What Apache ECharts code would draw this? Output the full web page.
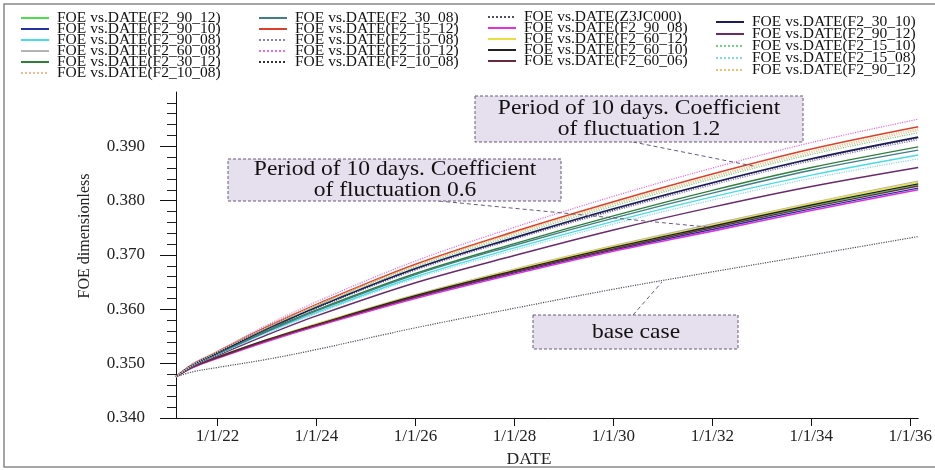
<!DOCTYPE html>
<html><head><meta charset="utf-8">
<script src="https://cdn.jsdelivr.net/npm/echarts@6/dist/echarts.min.js"></script>
<style>html,body{margin:0;padding:0;background:#fff}#c{width:935px;height:470px}</style>
</head><body><div id="c"></div>
<script>
// ---- data ----
// x positions as decimal years (2021-03-01 ... 2036-03-01)
const years = [2021.16,2021.5,2022,2023,2024,2026,2028,2030,2032,2034,2036.16];
const tickYears = [2022,2024,2026,2028,2030,2032,2034,2036];
const yTickValues = [0.34,0.35,0.36,0.37,0.38,0.39];

const v_F2_90_12_green  = [0.3476,0.3494,0.3511,0.3543,0.3571,0.3624,0.3670,0.3713,0.3751,0.3790,0.3829];
const v_F2_90_10_blue   = [0.3476,0.3493,0.3511,0.3542,0.3570,0.3622,0.3667,0.3709,0.3747,0.3785,0.3823];
const v_F2_90_08_cyan   = [0.3476,0.3496,0.3517,0.3558,0.3594,0.3660,0.3713,0.3762,0.3807,0.3847,0.3884];
const v_F2_60_08_gray   = [0.3476,0.3494,0.3512,0.3544,0.3573,0.3627,0.3674,0.3717,0.3757,0.3796,0.3836];
const v_F2_30_12_dgreen = [0.3476,0.3497,0.3518,0.3561,0.3599,0.3666,0.3721,0.3772,0.3819,0.3861,0.3899];
const v_F2_10_08_peach  = [0.3476,0.3499,0.3521,0.3567,0.3607,0.3680,0.3739,0.3793,0.3843,0.3888,0.3929];
const v_F2_30_08_teal   = [0.3476,0.3497,0.3518,0.3559,0.3597,0.3664,0.3718,0.3768,0.3814,0.3856,0.3893];
const v_F2_15_12_red    = [0.3476,0.3499,0.3522,0.3568,0.3609,0.3683,0.3743,0.3798,0.3849,0.3895,0.3936];
const v_F2_15_08_lilac  = [0.3476,0.3498,0.3520,0.3563,0.3602,0.3672,0.3729,0.3781,0.3829,0.3873,0.3912];
const v_F2_10_12_pink   = [0.3476,0.3500,0.3523,0.3571,0.3614,0.3689,0.3751,0.3808,0.3860,0.3907,0.3950];
const v_F2_10_08_dark   = [0.3476,0.3498,0.3520,0.3564,0.3603,0.3674,0.3731,0.3783,0.3832,0.3876,0.3915];
const v_Z3JC000_base    = [0.3476,0.3485,0.3493,0.3508,0.3526,0.3566,0.3602,0.3637,0.3669,0.3700,0.3734];
const v_F2_90_08_magenta= [0.3476,0.3493,0.3510,0.3541,0.3569,0.3620,0.3665,0.3707,0.3744,0.3782,0.3820];
const v_F2_60_12_yellow = [0.3476,0.3494,0.3512,0.3544,0.3573,0.3626,0.3673,0.3716,0.3755,0.3795,0.3834];
const v_F2_60_10_black  = [0.3476,0.3494,0.3512,0.3544,0.3572,0.3625,0.3671,0.3714,0.3753,0.3792,0.3831];
const v_F2_60_06_maroon = [0.3476,0.3494,0.3511,0.3543,0.3571,0.3623,0.3669,0.3711,0.3750,0.3788,0.3827];
const v_F2_30_10_navy   = [0.3476,0.3498,0.3520,0.3564,0.3604,0.3675,0.3732,0.3785,0.3833,0.3877,0.3917];
const v_F2_90_12_purple = [0.3476,0.3495,0.3515,0.3553,0.3588,0.3649,0.3699,0.3746,0.3788,0.3826,0.3861];
const v_F2_15_10_lgreen = [0.3476,0.3498,0.3521,0.3566,0.3606,0.3678,0.3736,0.3790,0.3840,0.3885,0.3925];
const v_F2_15_08_lcyan  = [0.3476,0.3496,0.3516,0.3556,0.3592,0.3657,0.3709,0.3757,0.3801,0.3841,0.3877];
const v_F2_90_12_orange = [0.3476,0.3499,0.3522,0.3567,0.3608,0.3681,0.3741,0.3795,0.3845,0.3891,0.3932];

// ---- series definitions (name, values, style) ----
const seriesDefs = [
  ['FOE vs.DATE(F2_90_12)',    v_F2_90_12_green,  '#4fdc4f', 'solid', 1.4],
  ['FOE vs.DATE(F2_90_10)',    v_F2_90_10_blue,   '#2233a0', 'solid', 1.4],
  ['FOE vs.DATE(F2_90_08)',    v_F2_90_08_cyan,   '#46dde6', 'solid', 1.4],
  ['FOE vs.DATE(F2_60_08)',    v_F2_60_08_gray,   '#b4b4b4', 'solid', 1.4],
  ['FOE vs.DATE(F2_30_12)',    v_F2_30_12_dgreen, '#2f7f3a', 'solid', 1.4],
  ['FOE vs.DATE(F2_10_08)',    v_F2_10_08_peach,  '#f2b89a', 'dotted', 1.2],
  ['FOE vs.DATE(F2_30_08)',    v_F2_30_08_teal,   '#3f7f86', 'solid', 1.4],
  ['FOE vs.DATE(F2_15_12)',    v_F2_15_12_red,    '#d8402c', 'solid', 1.6],
  ['FOE vs.DATE(F2_15_08)',    v_F2_15_08_lilac,  '#8c7cb8', 'dotted', 1.2],
  ['FOE vs.DATE(F2_10_12)',    v_F2_10_12_pink,   '#e070e0', 'dotted', 1.2],
  ['FOE vs.DATE(F2_10_08)#2',  v_F2_10_08_dark,   '#303040', 'dotted', 1.2],
  ['FOE vs.DATE(Z3JC000)',     v_Z3JC000_base,    '#505060', 'dotted', 1.2],
  ['FOE vs.DATE(F2_90_08)#2',  v_F2_90_08_magenta,'#e030e0', 'solid', 1.6],
  ['FOE vs.DATE(F2_60_12)',    v_F2_60_12_yellow, '#e8e040', 'solid', 1.4],
  ['FOE vs.DATE(F2_60_10)',    v_F2_60_10_black,  '#222222', 'solid', 1.4],
  ['FOE vs.DATE(F2_60_06)',    v_F2_60_06_maroon, '#6a2a3a', 'solid', 1.4],
  ['FOE vs.DATE(F2_30_10)',    v_F2_30_10_navy,   '#1c1c5c', 'solid', 1.6],
  ['FOE vs.DATE(F2_90_12)#2',  v_F2_90_12_purple, '#6a2a6a', 'solid', 1.4],
  ['FOE vs.DATE(F2_15_10)',    v_F2_15_10_lgreen, '#70d080', 'dotted', 1.2],
  ['FOE vs.DATE(F2_15_08)#2',  v_F2_15_08_lcyan,  '#80d8e8', 'dotted', 1.2],
  ['FOE vs.DATE(F2_90_12)#3',  v_F2_90_12_orange, '#f0c070', 'dotted', 1.2]
];

const legendCols = [
  ['FOE vs.DATE(F2_90_12)','FOE vs.DATE(F2_90_10)','FOE vs.DATE(F2_90_08)','FOE vs.DATE(F2_60_08)','FOE vs.DATE(F2_30_12)','FOE vs.DATE(F2_10_08)'],
  ['FOE vs.DATE(F2_30_08)','FOE vs.DATE(F2_15_12)','FOE vs.DATE(F2_15_08)','FOE vs.DATE(F2_10_12)','FOE vs.DATE(F2_10_08)#2'],
  ['FOE vs.DATE(Z3JC000)','FOE vs.DATE(F2_90_08)#2','FOE vs.DATE(F2_60_12)','FOE vs.DATE(F2_60_10)','FOE vs.DATE(F2_60_06)'],
  ['FOE vs.DATE(F2_30_10)','FOE vs.DATE(F2_90_12)#2','FOE vs.DATE(F2_15_10)','FOE vs.DATE(F2_15_08)#2','FOE vs.DATE(F2_90_12)#3']
];

// ---- chart ----
const SERIF = 'Liberation Serif, Times New Roman, serif';
const chart = echarts.init(document.getElementById('c'), null, {renderer: 'canvas'});
const legendLeft = [20, 258, 487, 715];
const legendTop = [10, 10, 9, 14];
const legendGap = [-5, -5, -5, -4];
const legends = legendCols.map((col, i) => ({
  data: col, orient: 'vertical', left: legendLeft[i], top: legendTop[i],
  padding: 0, itemGap: legendGap[i], itemWidth: 28, itemHeight: 10,
  selectedMode: false,
  itemStyle: {opacity: 0},
  lineStyle: {width: 2},
  formatter: n => n.split('#')[0],
  textStyle: {fontFamily: SERIF, fontSize: 15.5, lineHeight: 15, color: '#111', padding: [0,0,0,3]}
}));

const series = seriesDefs.map(d => ({
  name: d[0], type: 'line', showSymbol: false, symbol: 'none', smooth: 0.35,
  data: years.map((t, i) => [t, d[1][i]]),
  lineStyle: {color: d[2], type: d[3], width: d[4]},
  itemStyle: {color: d[2]},
  emphasis: {disabled: true}
}));

const dashStroke = '#6a5a7c';
const boxFill = '#e6e0ee';
function box(x, y, w, h) {
  return {type: 'rect', shape: {x, y, width: w, height: h}, z: 100,
    style: {fill: boxFill, stroke: dashStroke, lineWidth: 1, lineDash: [3, 2]}};
}
function label(x, y, text, size, sx) {
  return {type: 'text', x, y, scaleX: sx, z: 101,
    style: {text, fontFamily: SERIF, fontSize: size, lineHeight: size, fill: '#111',
      align: 'center', verticalAlign: 'middle', textAlign: 'center', textVerticalAlign: 'middle'}};
}
function pointer(x1, y1, x2, y2) {
  return {type: 'line', shape: {x1, y1, x2, y2}, z: 99,
    style: {stroke: dashStroke, lineWidth: 1, lineDash: [4, 3]}};
}

chart.setOption({
  animation: false,
  backgroundColor: '#fff',
  legend: legends,
  grid: {left: 176, top: 92, bottom: 52, right: -8, containLabel: false},
  xAxis: {
    type: 'value',
    min: years[0],
    max: years[years.length - 1],
    axisLine: {lineStyle: {color: '#111', width: 1}},
    axisTick: {show: true, length: 8, customValues: tickYears, lineStyle: {color: '#111'}},
    axisLabel: {customValues: tickYears, margin: 10, fontFamily: SERIF, fontSize: 17, color: '#222',
      formatter: v => '1/1/' + String(Math.round(v)).slice(2)},
    splitLine: {show: false}
  },
  yAxis: {
    type: 'value', min: 0.34, max: 0.40, interval: 0.01,
    axisLine: {show: true, lineStyle: {color: '#111', width: 1}},
    axisTick: {show: true, length: 16, customValues: yTickValues, lineStyle: {color: '#111'}},
    minorTick: {show: true, splitNumber: 5, length: 9, lineStyle: {color: '#222'}},
    axisLabel: {customValues: yTickValues, margin: 31, fontFamily: SERIF, fontSize: 17, color: '#222',
      formatter: v => v.toFixed(3)},
    splitLine: {show: false}
  },
  graphic: [
    {type: 'rect', shape: {x: 4, y: 4, width: 960, height: 463}, z: -1, silent: true,
      style: {fill: 'none', stroke: '#888', lineWidth: 1.5}},
    {type: 'text', x: 85, y: 236, rotation: Math.PI / 2, z: 50,
      style: {text: 'FOE dimensionless', fontFamily: SERIF, fontSize: 16, fill: '#222',
        align: 'center', verticalAlign: 'middle', textAlign: 'center', textVerticalAlign: 'middle'}},
    {type: 'text', x: 529, y: 460, scaleX: 1.1, z: 50,
      style: {text: 'DATE', fontFamily: SERIF, fontSize: 16, fill: '#222',
        align: 'center', verticalAlign: 'middle', textAlign: 'center', textVerticalAlign: 'middle'}},
    pointer(633, 142, 753, 166),
    pointer(439, 201, 707, 227),
    pointer(633, 315, 662, 282),
    box(475, 96, 328, 46),
    label(639, 119, 'Period of 10 days. Coefficient\nof fluctuation 1.2', 21, 1.12),
    box(228, 159, 333, 42),
    label(395, 180, 'Period of 10 days. Coefficient\nof fluctuation 0.6', 21, 1.12),
    box(533, 315, 205, 34),
    label(636, 332, 'base case', 21, 1.12)
  ],
  series
});
</script>
</body></html>
